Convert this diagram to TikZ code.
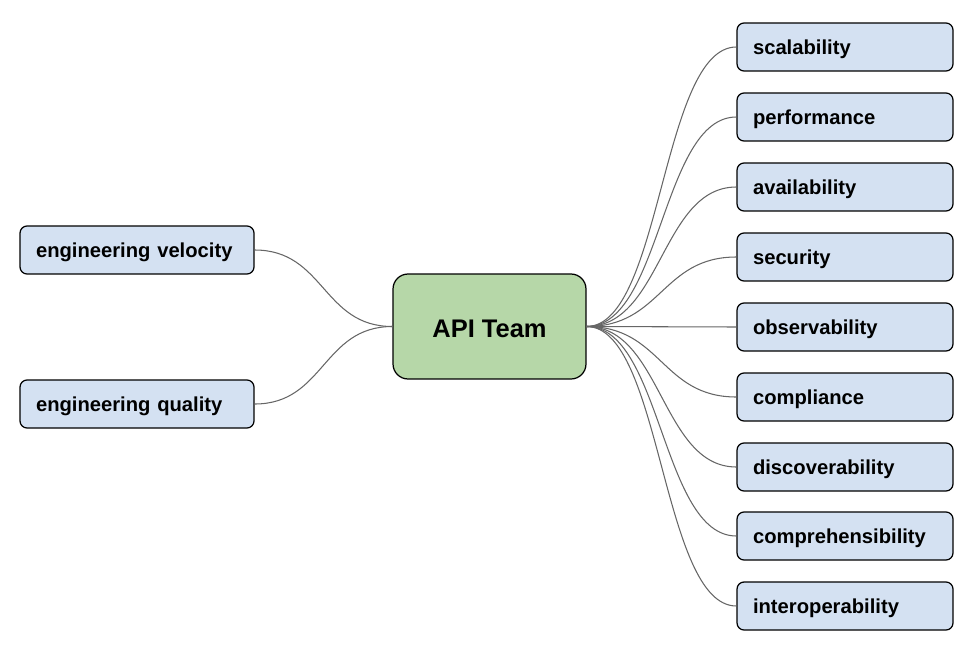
\documentclass[tikz,border=0pt]{standalone}
\usepackage{fontspec}
\setmainfont{Liberation Sans}
\definecolor{leafblue}{HTML}{D4E1F2}
\definecolor{hubgreen}{HTML}{B6D7A8}
\definecolor{linkgray}{HTML}{666666}
\begin{document}
\begin{tikzpicture}[x=0.02cm,y=-0.02cm,
  every node/.style={font=\bfseries\fontsize{11.5}{14}\selectfont},
  leaf/.style={draw=black,fill=leafblue,rounded corners=0.14cm,line width=0.7pt,minimum height=0.96cm,inner xsep=0.32cm,text height=10.8pt,text depth=2.4pt,align=left},
  link/.style={draw=linkgray,line width=0.6pt}]
  \useasboundingbox (0,0) rectangle (972,652);
  \node[draw=black,fill=hubgreen,rounded corners=0.3cm,line width=0.7pt,minimum width=3.86cm,minimum height=2.1cm,text height=12pt,text depth=0pt,font=\bfseries\fontsize{14.5}{17}\selectfont] (hub) at (489.5,326.5) {API Team};
  \node[leaf,text width=4.04cm] (velocity) at (137,250) {engineering velocity};
  \node[leaf,text width=4.04cm] (quality) at (137,404) {engineering quality};
  \draw[link] (hub.west) .. controls +(-70,0) and +(70,0) .. (velocity.east);
  \draw[link] (hub.west) .. controls +(-70,0) and +(70,0) .. (quality.east);
  \foreach \y/\txt [count=\i] in {47/scalability,117/performance,187/availability,257/security,327/observability,397/compliance,467/discoverability,536/comprehensibility,606/interoperability} {
    \node[leaf,text width=3.68cm] (q\i) at (845,\y) {\txt};
    \draw[link] (hub.east) .. controls +(75,0) and +(-75,0) .. (q\i.west);
  }
\end{tikzpicture}
\end{document}
